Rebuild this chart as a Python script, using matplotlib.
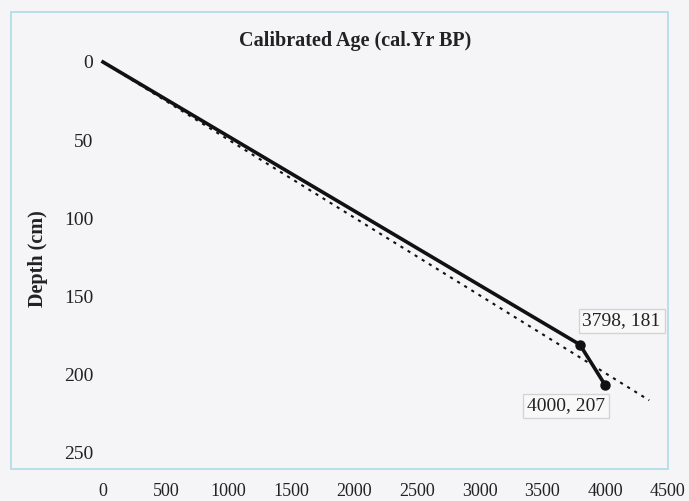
"""
Age-depth model chart: calibrated age vs depth with linear trend
"""

import numpy as np
import matplotlib.pyplot as plt
from matplotlib.patches import Rectangle

# Data
ages = [0, 3798, 4000]
depths = [0, 181, 207]
labelled_points = [1, 2]
trend_max_age = 4350
x_ticks = [0, 500, 1000, 1500, 2000, 2500, 3000, 3500, 4000, 4500]
y_ticks = [0, 50, 100, 150, 200, 250]

plt.rcParams['font.family'] = ['Liberation Serif', 'DejaVu Serif']

W, H = 689, 501
fig = plt.figure(figsize=(W / 100, H / 100), dpi=100)
fig.patch.set_facecolor('#f5f4f6')

# light blue chart border
fig.patches.append(Rectangle((11 / W, 1 - 469 / H), (668 - 11) / W, (469 - 12) / H,
                             transform=fig.transFigure, fill=False,
                             edgecolor='#b3dde9', linewidth=1.3))

ax = fig.add_axes([103 / W, 1 - 482 / H, (668 - 103) / W, (482 - 62) / H])
ax.set_facecolor('none')
for s in ax.spines.values():
    s.set_visible(False)

ax.set_xlim(0, 4500)
ax.set_ylim(269, 0)
ax.set_xticks(x_ticks)
ax.set_yticks(y_ticks)
ax.tick_params(axis='x', length=0, pad=1, labelsize=13, labelcolor='#222222')
ax.tick_params(axis='y', length=0, pad=7, labelsize=14, labelcolor='#222222')

# linear trend through origin
a = np.array(ages, dtype=float)
d = np.array(depths, dtype=float)
slope = (a * d).sum() / (a * a).sum()
tx = np.array([0, trend_max_age])
ax.plot(tx, slope * tx, color='#111111', linestyle=(0, (1.5, 2.5)), linewidth=1.5,
        clip_on=False)

ax.plot(ages, depths, color='#111111', linewidth=2.6, clip_on=False)
ax.plot([ages[i] for i in labelled_points], [depths[i] for i in labelled_points],
        'o', color='#111111', markersize=6.5, clip_on=False)

offsets = {1: (30, 17), 2: (-28, -15)}
for i in labelled_points:
    ax.annotate(f'{ages[i]}, {depths[i]}', (ages[i], depths[i]),
                xytext=offsets[i], textcoords='offset points',
                ha='center', va='center', fontsize=14, color='#222222',
                bbox=dict(boxstyle='square,pad=0.2', facecolor='#f8f8f8',
                          edgecolor='#d4d4d4', linewidth=1))

fig.text(355 / W, 1 - 41 / H, 'Calibrated Age (cal.Yr BP)', ha='center', va='center',
         fontsize=14.5, fontweight='bold', color='#222222')
fig.text(38 / W, 1 - 259 / H, 'Depth (cm)', ha='center', va='center', rotation=90,
         fontsize=14.5, fontweight='bold', color='#222222')

fig.savefig('out.png', dpi=100, facecolor=fig.get_facecolor())
